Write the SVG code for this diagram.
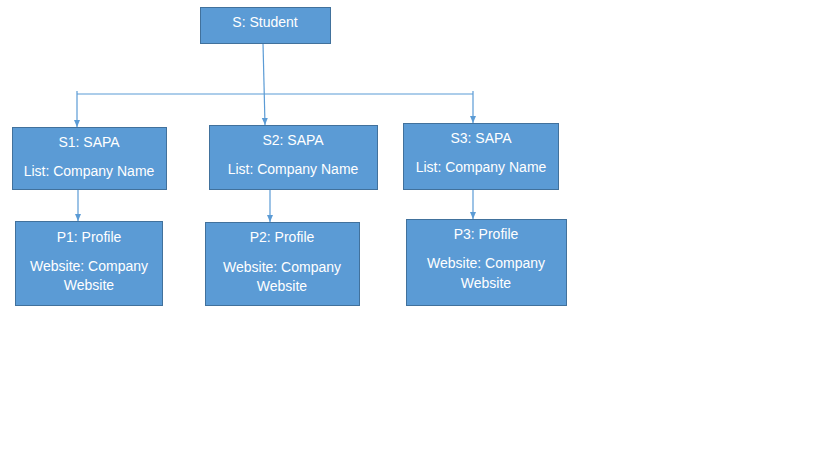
<svg xmlns="http://www.w3.org/2000/svg" width="819" height="460" viewBox="0 0 819 460">
<style>
.box{fill:#5B9BD5;stroke:#41719C;stroke-width:1}
.t{fill:#fff;font-family:"Liberation Sans",Arial,sans-serif;font-size:14px;text-anchor:middle}
.c{stroke:#5B9BD5;stroke-width:1.2;fill:none}
</style>
<defs>
<marker id="ah" markerWidth="8" markerHeight="8" refX="7" refY="4" orient="auto" markerUnits="userSpaceOnUse">
<path d="M0,1 L7,4 L0,7 Z" fill="#5B9BD5"/>
</marker>
</defs>
<rect width="819" height="460" fill="#fff"/>
<g id="connectors">
<path class="c" d="M263,43 L265,125" marker-end="url(#ah)"/>
<path class="c" d="M77,94 L473,94"/>
<path class="c" d="M77,91 L77,127" marker-end="url(#ah)"/>
<path class="c" d="M473,91 L473,123" marker-end="url(#ah)"/>
<path class="c" d="M78,189 L78,221" marker-end="url(#ah)"/>
<path class="c" d="M270,189 L270,222" marker-end="url(#ah)"/>
<path class="c" d="M473,189 L473,219" marker-end="url(#ah)"/>
</g>
<g id="S">
<rect class="box" x="200.5" y="7.5" width="130" height="36"/>
<text class="t" x="265" y="27">S: Student</text>
</g>
<g id="S1">
<rect class="box" x="12.5" y="127.5" width="154" height="62"/>
<text class="t" x="89" y="147">S1: SAPA</text>
<text class="t" x="89" y="176">List: Company Name</text>
</g>
<g id="S2">
<rect class="box" x="209.5" y="125.5" width="168" height="64"/>
<text class="t" x="293" y="145">S2: SAPA</text>
<text class="t" x="293" y="174">List: Company Name</text>
</g>
<g id="S3">
<rect class="box" x="403.5" y="123.5" width="155" height="66"/>
<text class="t" x="481" y="143">S3: SAPA</text>
<text class="t" x="481" y="172">List: Company Name</text>
</g>
<g id="P1">
<rect class="box" x="15.5" y="221.5" width="147" height="84"/>
<text class="t" x="89" y="242">P1: Profile</text>
<text class="t" x="89" y="271">Website: Company</text>
<text class="t" x="89" y="290">Website</text>
</g>
<g id="P2">
<rect class="box" x="205.5" y="222.5" width="154" height="83"/>
<text class="t" x="282" y="242">P2: Profile</text>
<text class="t" x="282" y="272">Website: Company</text>
<text class="t" x="282" y="291">Website</text>
</g>
<g id="P3">
<rect class="box" x="406.5" y="219.5" width="160" height="86"/>
<text class="t" x="486" y="239">P3: Profile</text>
<text class="t" x="486" y="268">Website: Company</text>
<text class="t" x="486" y="288">Website</text>
</g>
</svg>
